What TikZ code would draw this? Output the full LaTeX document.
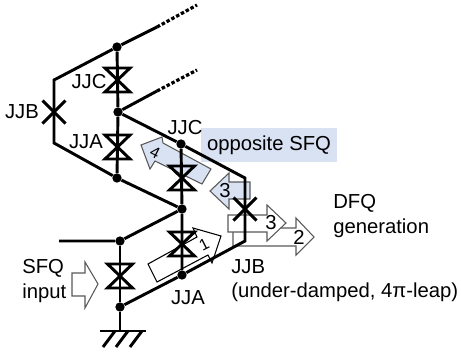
\documentclass[tikz,border=0pt]{standalone}
\usepackage{fontspec}
\setmainfont{Liberation Sans}
\tikzset{> = latex,
	wire/.style={line width=2.2pt},
	dotline/.style={line width=2.4pt,dash pattern=on 2.6pt off 1.5pt},
	dotn/.style={circle,fill=black,inner sep=0pt,minimum size=7pt},
	lbl/.style={inner sep=0pt,font=\fontsize{15.2pt}{17pt}\selectfont},
	lblsmall/.style={inner sep=0pt,font=\fontsize{12pt}{14pt}\selectfont},
	blockw/.style={draw=black!65,line width=.8pt,fill=white,line join=miter},
	blockb/.style={blockw,fill=blueshade},
	jj/.pic={\draw[wire] (-12.5,-12)--(12.5,-12)--(-12.5,12)--(12.5,12)--cycle;},
	jjb/.pic={\draw[wire] (-11.5,-11.5)--(11.5,11.5) (11.5,-11.5)--(-11.5,11.5);}
}
\definecolor{blueshade}{HTML}{D9E2F3}
\begin{document}
\begin{tikzpicture}[x=.75pt,y=-.75pt]
	\useasboundingbox (0,0) rectangle (461,355);
	% blue label box
	\node[fill=blueshade,minimum width=102pt,minimum height=25.5pt,inner sep=0pt] (boxsfq) at (269,145) {};
	% current arrows
	\draw[blockw] (233,228)--(296,228)--(296,218)--(314,237)--(296,255)--(296,246)--(233,246)--cycle;
	\draw[blockw] (228,215)--(267,215)--(267,205)--(286,223)--(267,241)--(267,232)--(228,232)--cycle;
	\draw[blockb] (141,145)--(162,137)--(163,143)--(211,169)--(202,184)--(155,161)--(150,169)--cycle;
	\draw[blockb] (210,191)--(229,173)--(229,182)--(250,182)--(250,199)--(229,199)--(229,209)--cycle;
	\draw[blockw,draw=black] (148,264)--(197,237)--(193,228)--(221,236)--(212,263)--(208,255)--(157,282)--cycle;
	\draw[blockw] (72,273)--(85,273)--(85,262)--(98,284)--(85,308)--(85,296)--(72,296)--cycle;
	% junctions
	\node[dotn] (top) at (117,47) {};
	\node[dotn] (midl) at (118,112) {};
	\node[dotn] (botl) at (117,178) {};
	\node[dotn] (jjcr) at (181,144) {};
	\node[dotn] (midr) at (182,209) {};
	\node[dotn] (botr) at (182,275) {};
	\node[dotn] (inp) at (120,241) {};
	\node[dotn] (gnd) at (120,307) {};
	\coordinate (cl1) at (54,80);
	\coordinate (cl2) at (54,143);
	\coordinate (cr1) at (245,178);
	\coordinate (cr2) at (245,241);
	\coordinate (stub) at (59,241);
	\coordinate (end1) at (157,27);
	\coordinate (end2) at (157,91);
	\coordinate (dot1) at (197,5);
	\coordinate (dot2) at (197,70);
	\coordinate (earth) at (120,331);
	% circuit
	\draw[wire] (end1)--(top)--(cl1)--(cl2)--(botl)--(midr)--(inp)--(stub);
	\draw[wire] (end2)--(midl)--(jjcr)--(cr1)--(cr2)--(botr)--(gnd);
	\draw[wire] (top)--(midl)--(botl);
	\draw[wire] (jjcr)--(midr)--(botr);
	\draw[wire] (inp)--(gnd)--(earth);
	\draw[dotline] (end1)--(dot1);
	\draw[dotline] (end2)--(dot2);
	\draw[wire] (100,331)--(146,331);
	\foreach \x in {115,128,142} \draw[wire] (\x,331)--++(-12,16);
	% junctions of the loop
	\pic at (117.5,80) {jj};
	\pic at (117.5,147) {jj};
	\pic at (182,178) {jj};
	\pic at (182,244) {jj};
	\pic at (120,276) {jj};
	\pic at (54,112) {jjb};
	\pic at (245,209) {jjb};
	% labels
	\node[lbl] (lbjjcl) at (89,82) {JJC};
	\node[lbl] (lbjjbl) at (22,112) {JJB};
	\node[lbl] (lbjjal) at (86,142) {JJA};
	\node[lbl] (lbjjcr) at (185,128) {JJC};
	\node[lbl] (lbsfq) at (boxsfq) {opposite SFQ};
	\node[lbl,anchor=west] (lbdfq) at (333,203) {DFQ};
	\node[lbl,anchor=west] (lbgen) at (333,228) {generation};
	\node[lbl,anchor=west] (lbjjbr) at (231,267) {JJB};
	\node[lbl,anchor=west] (lbdamp) at (231,292) {(under-damped, 4π-leap)};
	\node[lbl,anchor=west] (lbin1) at (22,268) {SFQ};
	\node[lbl,anchor=west] (lbin2) at (22,293) {input};
	\node[lbl] (lbjjab) at (188,298) {JJA};
	\node[lblsmall] (n4) at (155,153) [rotate=-27] {4};
	\node[lbl] (n3l) at (225,191) {3};
	\node[lbl] (n3r) at (271,223) {3};
	\node[lbl] (n2) at (299,237) {2};
	\node[lblsmall] (n1) at (204,245) [rotate=27] {1};
\end{tikzpicture}
\end{document}
